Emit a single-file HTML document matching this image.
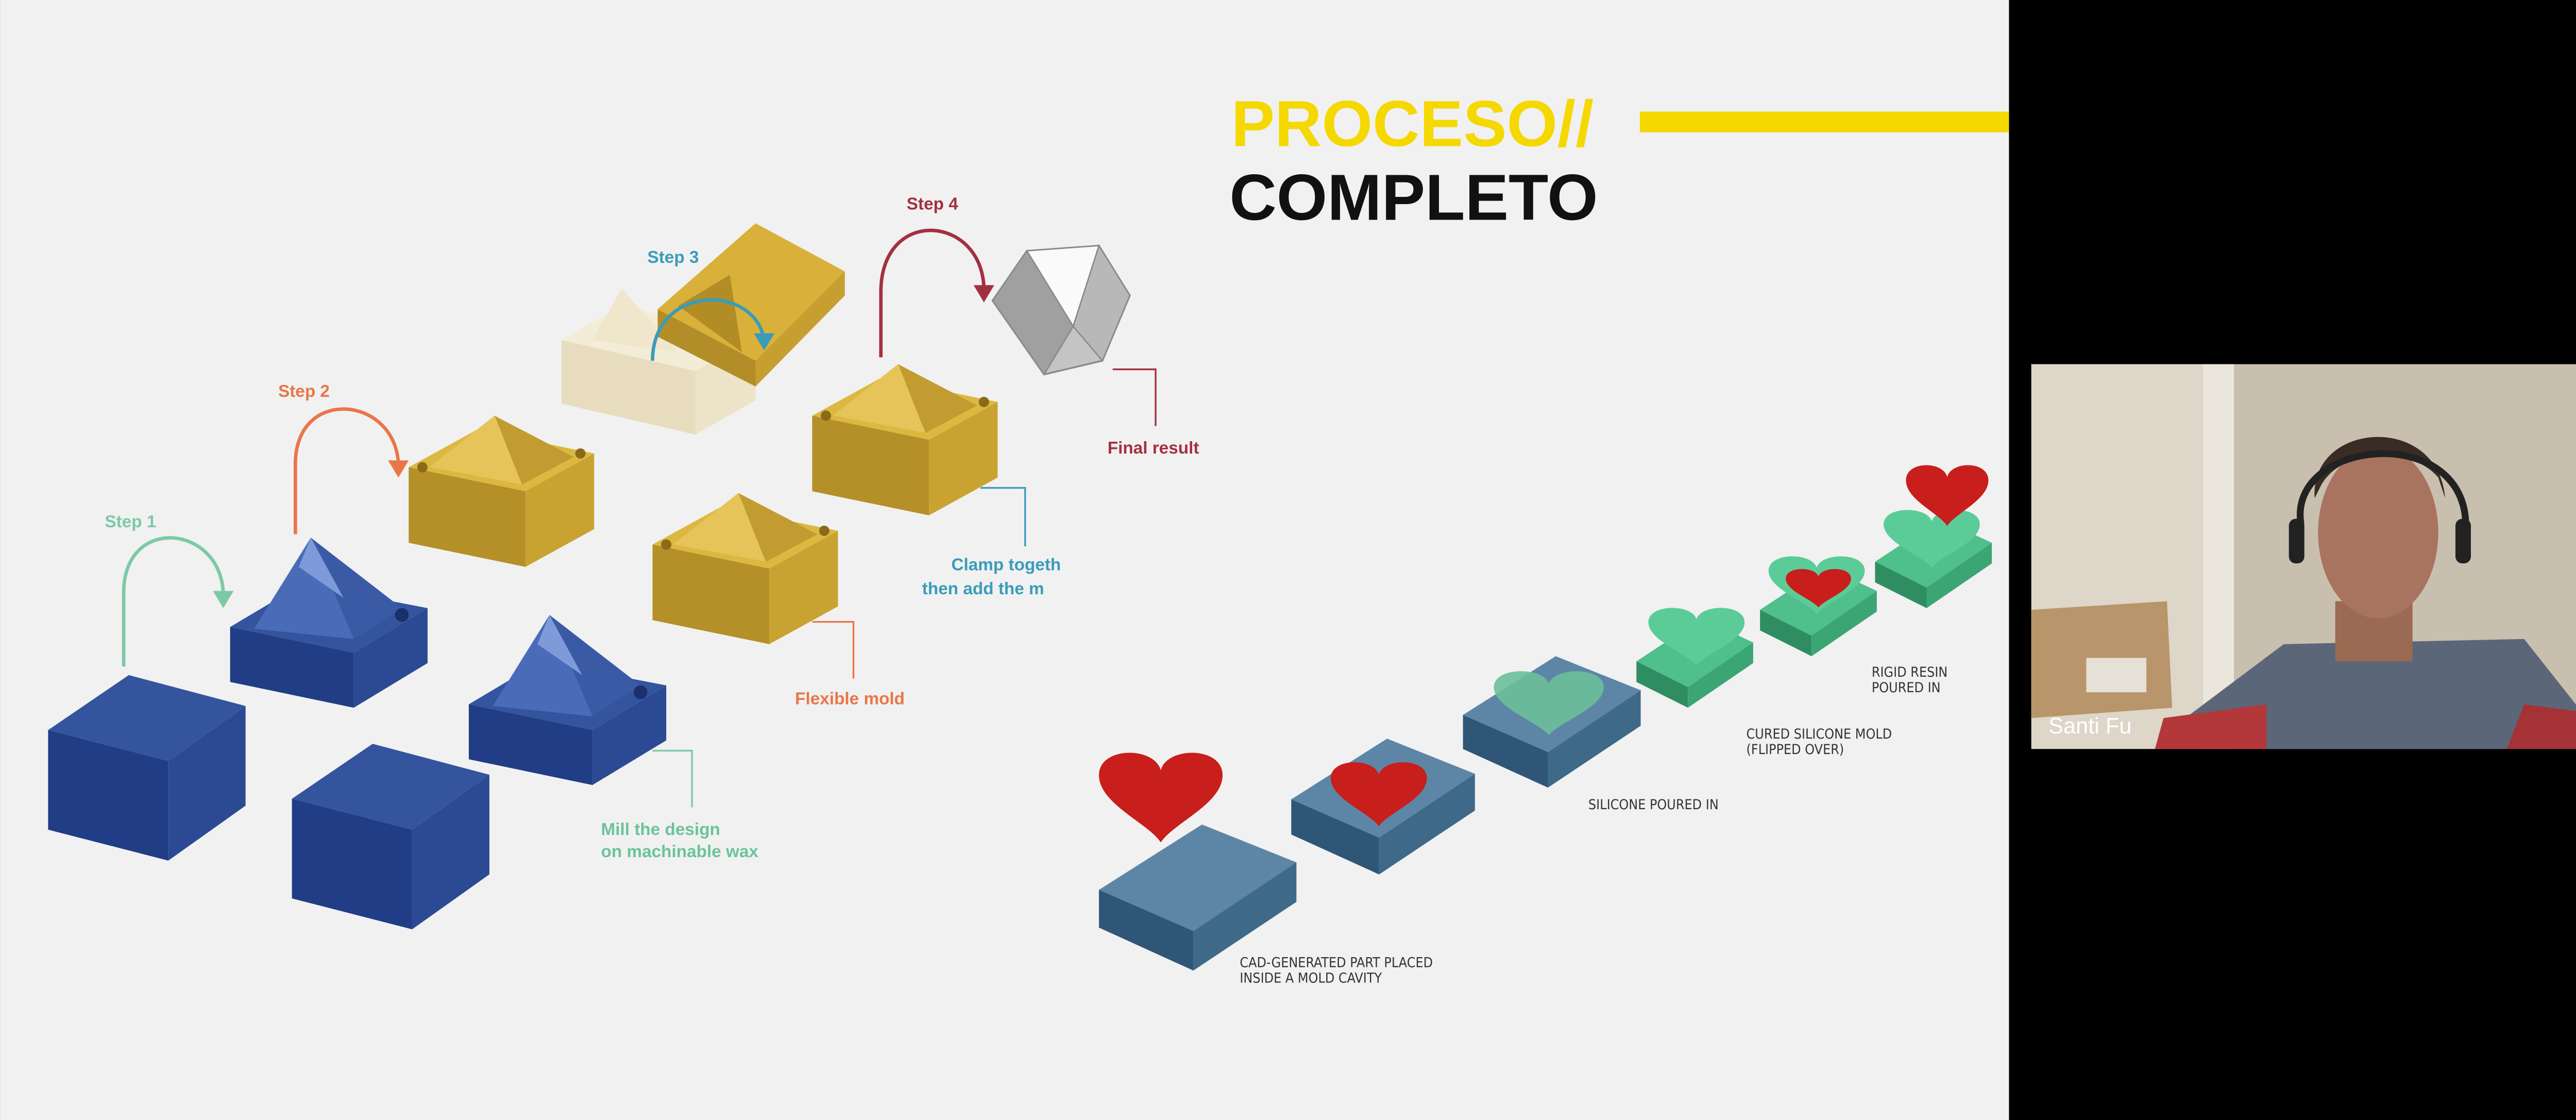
<!DOCTYPE html>
<html><head><meta charset="utf-8"><style>
html,body{margin:0;padding:0;background:#000;overflow:hidden;}
svg{display:block}
text{font-family:"Liberation Sans",sans-serif;}
.lbl{font-family:"DejaVu Sans Condensed","Liberation Sans",sans-serif;font-size:8px;fill:#333;}
</style></head><body>
<svg width="5226" height="2173" viewBox="0 0 1568 652" xmlns="http://www.w3.org/2000/svg">
<defs>
<g id="cube">
 <polygon points="0,32 47,0 115,18 70,50" fill="#34549e"/>
 <polygon points="0,32 70,50 70,108 0,90" fill="#203d85"/>
 <polygon points="70,50 115,18 115,76 70,108" fill="#2b4a93"/>
</g>
<g id="bluemold">
 <polygon points="0,25 42,0 115,14 72,40" fill="#34549e"/>
 <polygon points="0,25 72,40 72,72 0,57" fill="#203d85"/>
 <polygon points="72,40 115,14 115,46 72,72" fill="#2b4a93"/>
 <polygon points="14,26 47,-27 72,32" fill="#4a6cb8"/>
 <polygon points="47,-27 72,32 100,14" fill="#3b5aa6"/>
 <polygon points="40,-10 47,-27 66,8" fill="#7f9ad8"/>
 <circle cx="100" cy="18" r="4" fill="#1b2f6a"/>
</g>
<g id="goldmold">
 <polygon points="0,22 40,0 108,14 68,36" fill="#dcb841"/>
 <polygon points="0,22 68,36 68,80 0,66" fill="#b58f28"/>
 <polygon points="68,36 108,14 108,58 68,80" fill="#c9a331"/>
 <polygon points="12,22 42,6 96,16 66,32" fill="#a8831f"/>
 <polygon points="12,22 50,-8 66,32" fill="#e6c45a"/>
 <polygon points="50,-8 66,32 96,16" fill="#c29c30"/>
 <circle cx="8" cy="22" r="3" fill="#8a6a18"/><circle cx="100" cy="14" r="3" fill="#8a6a18"/>
</g>
<path id="heart" d="M0,8 C0,-4 18,-4 20,6 C22,-4 40,-4 40,8 C40,20 24,28 20,36 C16,28 0,20 0,8Z"/>
<g id="slab">
 <polygon points="0,38 60,0 115,22 55,62" fill="#5d86a6"/>
 <polygon points="0,38 55,62 55,85 0,60" fill="#2f5677"/>
 <polygon points="55,62 115,22 115,45 55,85" fill="#3f6989"/>
</g>
<g id="gmold">
 <polygon points="0,25 38,0 68,14 30,40" fill="#4fbf8c"/>
 <polygon points="0,25 30,40 30,52 0,37" fill="#2f8d62"/>
 <polygon points="30,40 68,14 68,26 30,52" fill="#3ba574"/>
</g>
</defs>
<rect x="0" y="0" width="1170" height="652" fill="#f1f1f1"/>
<rect x="1170" y="0" width="398" height="652" fill="#000"/>
<text x="717" y="85" font-size="38" font-weight="bold" fill="#f5d800">PROCESO//</text>
<rect x="955" y="65" width="215" height="12" fill="#f5d800"/>
<text x="716" y="128" font-size="38" font-weight="bold" fill="#111">COMPLETO</text>
<use href="#cube" x="28" y="393"/>
<use href="#cube" x="170" y="433"/>
<use href="#bluemold" x="134" y="340"/>
<use href="#bluemold" x="273" y="385"/>
<use href="#goldmold" x="238" y="250"/>
<use href="#goldmold" x="380" y="295"/>
<use href="#goldmold" x="473" y="220"/>
<polygon points="327,198 362,178 440,196 405,216" fill="#f3ecd6"/>
<polygon points="327,198 405,216 405,253 327,235" fill="#e7dcbd"/>
<polygon points="405,216 440,196 440,233 405,253" fill="#ece3c9"/>
<polygon points="345,198 362,168 395,205" fill="#efe6cc"/>
<polygon points="383,180 440,130 492,158 440,210" fill="#d9b13a"/>
<polygon points="383,180 440,210 440,225 383,196" fill="#b38d27"/>
<polygon points="440,210 492,158 492,172 440,225" fill="#c69f30"/>
<polygon points="395,178 425,160 432,205" fill="#a8831f" opacity="0.8"/>
<!-- polyhedron -->
<polygon points="578,175 598,146 640,143 658,172 642,210 608,218" fill="#c4c4c4" stroke="#8a8a8a" stroke-width="1"/>
<polygon points="598,146 640,143 625,190" fill="#fafafa" stroke="#8a8a8a" stroke-width="0.8"/>
<polygon points="578,175 598,146 625,190 608,218" fill="#a0a0a0" stroke="#8a8a8a" stroke-width="0.8"/>
<polygon points="640,143 658,172 642,210 625,190" fill="#b8b8b8" stroke="#8a8a8a" stroke-width="0.8"/>
<g fill="none" stroke-width="2">
<path d="M72,388 L72,345 C72,300 128,305 130,345" stroke="#7cc9a6"/>
<path d="M172,311 L172,270 C172,225 230,230 232,270" stroke="#ea7549"/>
<path d="M380,210 C380,165 440,165 445,198" stroke="#3a9cba"/>
<path d="M513,208 L513,170 C513,120 572,125 573,168" stroke="#a3303f"/>
</g>
<polygon points="124,344 136,344 130,354" fill="#7cc9a6"/>
<polygon points="226,268 238,268 232,278" fill="#ea7549"/>
<polygon points="439,194 451,194 445,204" fill="#3a9cba"/>
<polygon points="567,166 579,166 573,176" fill="#a3303f"/>
<text x="61" y="307" font-size="10" font-weight="bold" fill="#7cc9a6">Step 1</text>
<text x="162" y="231" font-size="10" font-weight="bold" fill="#ea7549">Step 2</text>
<text x="377" y="153" font-size="10" font-weight="bold" fill="#3a9cba">Step 3</text>
<text x="528" y="122" font-size="10" font-weight="bold" fill="#a3303f">Step 4</text>
<g fill="none" stroke-width="1">
<path d="M380,437 H403 V470" stroke="#7cc9a6"/>
<path d="M473,362 H497 V395" stroke="#ea7549"/>
<path d="M571,284 H597 V318" stroke="#3a9cba"/>
<path d="M648,215 H673 V248" stroke="#a3303f"/>
</g>
<text x="350" y="486" font-size="10" font-weight="bold" fill="#6cc39a">Mill the design</text>
<text x="350" y="499" font-size="10" font-weight="bold" fill="#6cc39a">on machinable wax</text>
<text x="463" y="410" font-size="10" font-weight="bold" fill="#ea7549">Flexible mold</text>
<text x="554" y="332" font-size="10" font-weight="bold" fill="#3a9cba">Clamp togeth</text>
<text x="537" y="346" font-size="10" font-weight="bold" fill="#3a9cba">then add the m</text>
<text x="645" y="264" font-size="10" font-weight="bold" fill="#a3303f">Final result</text>
<use href="#slab" x="640" y="480"/>
<use href="#heart" transform="translate(640,440) scale(1.8,1.4)" fill="#c81e1c"/>
<use href="#slab" transform="translate(752,430) scale(0.93)"/>
<use href="#heart" transform="translate(775,445) scale(1.4,1.0)" fill="#c81e1c"/>
<use href="#slab" transform="translate(852,382) scale(0.9)"/>
<use href="#heart" transform="translate(870,392) scale(1.6,1.0)" fill="#6bbf9a" opacity="0.9"/>
<use href="#gmold" x="953" y="360"/>
<use href="#heart" transform="translate(960,355) scale(1.4,0.9)" fill="#5bcc98"/>
<use href="#gmold" x="1025" y="330"/>
<use href="#heart" transform="translate(1030,325) scale(1.4,0.9)" fill="#5bcc98"/>
<use href="#heart" transform="translate(1040,332) scale(0.95,0.6)" fill="#c81e1c"/>
<use href="#gmold" x="1092" y="302"/>
<use href="#heart" transform="translate(1097,298) scale(1.4,0.9)" fill="#5bcc98"/>
<use href="#heart" transform="translate(1110,272) scale(1.2,0.95)" fill="#c81e1c"/>
<text class="lbl" x="722" y="563">CAD-GENERATED PART PLACED</text>
<text class="lbl" x="722" y="572">INSIDE A MOLD CAVITY</text>
<text class="lbl" x="925" y="471">SILICONE POURED IN</text>
<text class="lbl" x="1017" y="430">CURED SILICONE MOLD</text>
<text class="lbl" x="1017" y="439">(FLIPPED OVER)</text>
<text class="lbl" x="1090" y="394">RIGID RESIN</text>
<text class="lbl" x="1090" y="403">POURED IN</text>
<rect x="1183" y="212" width="385" height="224" fill="#c9bfae"/>
<rect x="1183" y="212" width="100" height="224" fill="#ddd6c9"/>
<rect x="1283" y="212" width="18" height="224" fill="#ebe6dc"/>
<rect x="1540" y="212" width="28" height="224" fill="#b7ab97"/>
<polygon points="1183,355 1262,350 1265,412 1183,418" fill="#b8956a"/>
<rect x="1215" y="383" width="35" height="20" fill="#e6e1d6"/>
<polygon points="1270,420 1330,375 1470,372 1508,420 1508,436 1260,436" fill="#5b6679"/>
<polygon points="1260,418 1320,410 1320,436 1255,436" fill="#b4383a"/>
<polygon points="1470,410 1508,415 1508,436 1460,436" fill="#a53234"/>
<rect x="1360" y="350" width="45" height="35" fill="#9a6a52"/>
<ellipse cx="1385" cy="310" rx="35" ry="50" fill="#a87460"/>
<path d="M1348,290 C1345,245 1420,240 1424,290 L1420,278 C1405,260 1365,260 1352,282 Z" fill="#3a2c25"/>
<path d="M1340,305 C1332,255 1438,245 1436,308" fill="none" stroke="#222" stroke-width="4"/>
<rect x="1333" y="302" width="9" height="26" rx="4" fill="#222"/>
<rect x="1430" y="302" width="9" height="26" rx="4" fill="#222"/>
<text x="1193" y="427" font-size="13" fill="#fff">Santi Fu</text>
</svg>
</body></html>
